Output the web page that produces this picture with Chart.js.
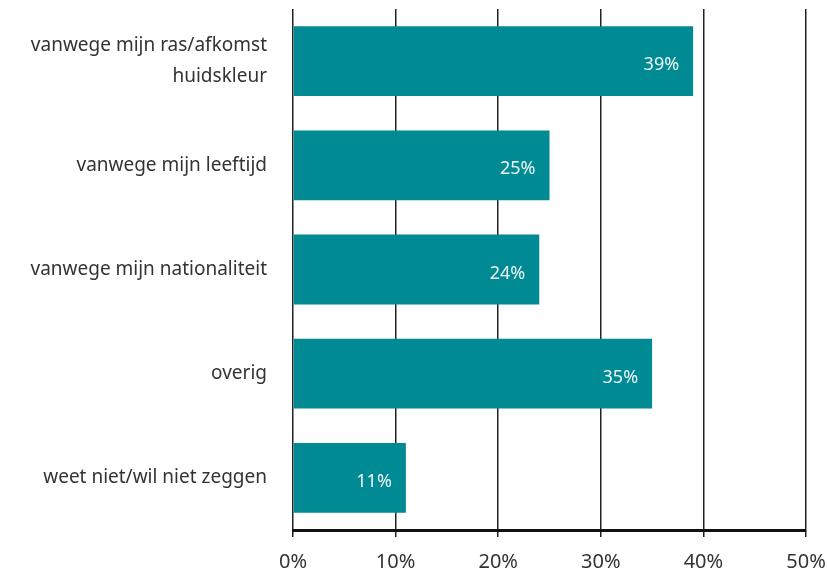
<!DOCTYPE html>
<html>
<head>
<meta charset="utf-8">
<script src="https://cdn.jsdelivr.net/npm/chart.js@4"></script>
<style>
  html, body { margin: 0; padding: 0; background: #fff; }
  #wrap { width: 827px; height: 575px; }
</style>
</head>
<body>
<div id="wrap"><canvas id="discChart" width="827" height="575"></canvas></div>
<script>
// redenen voor discriminatie (percentages)
const categories = [
    ['vanwege mijn ras/afkomst', 'huidskleur'],
    'vanwege mijn leeftijd',
    'vanwege mijn nationaliteit',
    'overig',
    'weet niet/wil niet zeggen'
];
const values = [39, 25, 24, 35, 11];
const xTicks = [0, 10, 20, 30, 40, 50];

const FONT = '"Noto Sans", "Open Sans", sans-serif';

// waarde-labels in de balk, rechts uitgelijnd
const barLabels = {
    id: 'barLabels',
    afterDatasetsDraw(chart) {
        const ctx = chart.ctx;
        const meta = chart.getDatasetMeta(0);
        ctx.save();
        ctx.font = '18px ' + FONT;
        ctx.fillStyle = '#eef6f6';
        ctx.textAlign = 'right';
        ctx.textBaseline = 'middle';
        meta.data.forEach((bar, i) => {
            ctx.fillText(values[i] + '%', bar.x - 14, bar.y + 4);
        });
        ctx.restore();
    }
};

const ctx = document.getElementById('discChart').getContext('2d');
new Chart(ctx, {
    type: 'bar',
    data: {
        labels: categories,
        datasets: [{
            data: values,
            backgroundColor: '#008a94',
            borderWidth: 0,
            categoryPercentage: 1,
            barPercentage: 0.67
        }]
    },
    options: {
        indexAxis: 'y',
        responsive: false,
        animation: false,
        layout: { padding: { top: 9, right: 21, left: 0, bottom: 0 } },
        plugins: {
            legend: { display: false },
            tooltip: { enabled: false }
        },
        scales: {
            x: {
                min: 0,
                max: 50,
                afterBuildTicks(scale) {
                    scale.ticks = xTicks.map(v => ({ value: v }));
                },
                afterFit(scale) {
                    scale.height = 45;
                    scale.paddingLeft = 0;
                    scale.paddingRight = 0;
                },
                grid: {
                    color: '#222',
                    lineWidth: 1.5,
                    drawTicks: true,
                    tickLength: 7
                },
                border: { display: true, color: '#111', width: 3 },
                ticks: {
                    callback: v => v + '%',
                    color: '#333',
                    padding: 13,
                    font: { family: FONT, size: 20 },
                    maxRotation: 0
                }
            },
            y: {
                afterFit(scale) {
                    scale.width = 293;
                    scale.paddingTop = 0;
                    scale.paddingBottom = 0;
                },
                grid: { display: false },
                border: { display: false },
                ticks: {
                    color: '#333',
                    padding: 18,
                    font: { family: FONT, size: 19, lineHeight: 1.65 }
                }
            }
        }
    },
    plugins: [barLabels]
});
</script>
</body>
</html>
